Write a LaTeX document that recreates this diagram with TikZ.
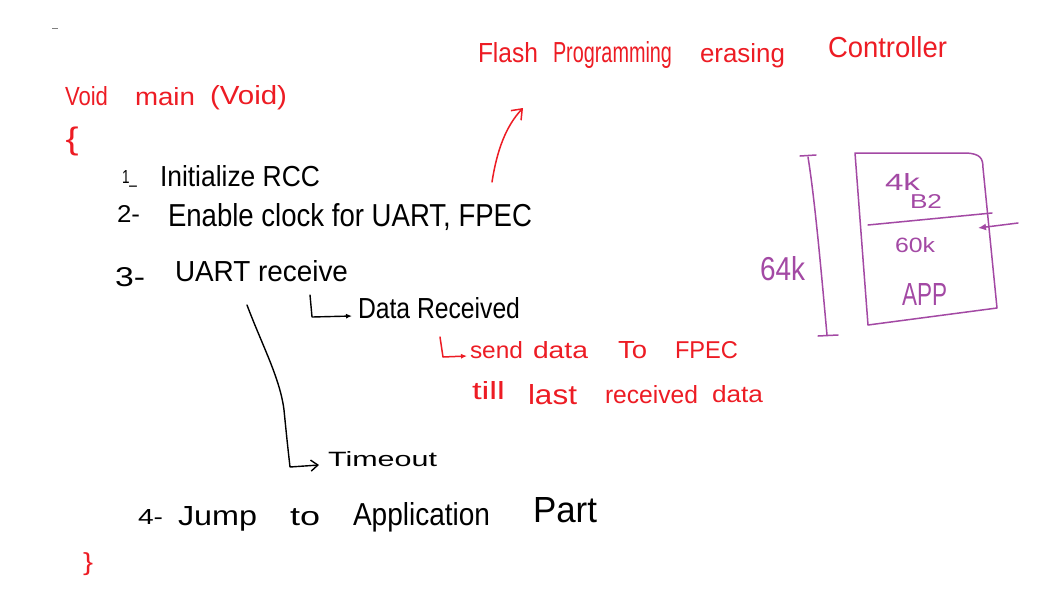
\documentclass[tikz,border=0pt]{standalone}
\usepackage{fontspec}
\setmainfont{Liberation Sans}
\usepackage{graphicx}
\usetikzlibrary{arrows.meta,calc}
\definecolor{penred}{RGB}{237,28,36}
\definecolor{penpurple}{RGB}{163,73,164}
\newcommand{\fitbox}[3]{\resizebox{#1pt}{#2pt}{\vphantom{X}#3}}
\tikzset{
  hw/.style={inner sep=0pt, outer sep=0pt, anchor=base west, text=black},
  hwred/.style={hw, text=penred},
  hwmem/.style={hw, text=penpurple},
  inkblack/.style={draw=black, line width=1.4pt, line cap=round, line join=round},
  inkred/.style={draw=penred, line width=1.5pt, line cap=round, line join=round},
  inkmem/.style={draw=penpurple, line width=1.5pt, line cap=round, line join=round},
  blobtip/.style={-{Latex[length=6pt,width=5pt]}},
  barbtip/.style={-{Straight Barb[length=7pt,width=11pt]}},
}
\begin{document}
\begin{tikzpicture}[x=1pt,y=-1pt]
\useasboundingbox[fill=white] (0,0) rectangle (1042,606);

% stray mark
\draw[draw=gray, line width=0.8pt] (52,28) -- (58,28);

% red function frame
\node[hwred] (void1) at (65,105) {\fitbox{43}{19}{Void}};
\node[hwred] (main) at (135,105) {\fitbox{60}{18}{main}};
\node[hwred] (void2) at (210,104) {\fitbox{77}{19}{(Void)}};
\node[hwred, anchor=center] (lbrace) at (72,141) {\resizebox*{13pt}{29pt}{\{}};
\node[hwred, anchor=center] (rbrace) at (88,564) {\resizebox*{10pt}{23pt}{\}}};

% title
\node[hwred] (t1) at (478,62) {\fitbox{60}{20}{Flash}};
\node[hwred] (t2) at (553,62) {\fitbox{119}{21}{Programming}};
\node[hwred] (t3) at (700,62) {\fitbox{85}{19}{erasing}};
\node[hwred] (t4) at (828,57) {\fitbox{119}{21}{Controller}};

% steps
\node[hw] (n1) at (122,183) {\fitbox{15}{13}{1\_}};
\node[hw] (s1) at (160,186) {\fitbox{160}{21}{Initialize RCC}};
\node[hw] (n2) at (117,222) {\fitbox{23}{17}{2-}};
\node[hw] (s2) at (168,226) {\fitbox{364}{23}{Enable clock for UART, FPEC}};
\node[hw] (n3) at (115,286) {\fitbox{30}{19}{3-}};
\node[hw] (s3) at (175,281) {\fitbox{173}{21}{UART receive}};
\node[hw] (dr) at (358,318) {\fitbox{162}{21}{Data Received}};

\node[hwred] (sd1) at (470,358) {\fitbox{53}{17}{send}};
\node[hwred] (sd2) at (533,358) {\fitbox{55}{17}{data}};
\node[hwred] (sd3) at (618,358) {\fitbox{29}{17}{To}};
\node[hwred] (sd4) at (675,358) {\fitbox{63}{17}{FPEC}};
\node[hwred] (tl1) at (472,399) {\fitbox{33}{18}{till}};
\node[hwred] (tl2) at (528,404) {\fitbox{49}{20}{last}};
\node[hwred] (tl3) at (605,403) {\fitbox{93}{18}{received}};
\node[hwred] (tl4) at (712,402) {\fitbox{51}{17}{data}};

\node[hw] (to) at (328,466) {\fitbox{109}{15}{Timeout}};

\node[hw] (n4) at (138,524) {\fitbox{25}{15}{4-}};
\node[hw] (j1) at (178,525) {\fitbox{79}{19}{Jump}};
\node[hw] (j2) at (290,525) {\fitbox{30}{18}{to}};
\node[hw] (j3) at (353,525) {\fitbox{137}{23}{Application}};
\node[hw] (j4) at (533,522) {\fitbox{64}{25}{Part}};

% branch connectors
\coordinate (drs) at (310,295);
\draw[inkblack, blobtip] (drs) -- (312,317) -- ($(dr.base west)+(-6,-2)$);
\coordinate (sds) at (440,337);
\draw[inkred, blobtip] (sds) -- (443,357) -- ($(sd1.base west)+(-3,-2)$);
\coordinate (tos) at (247,305);
\draw[inkblack, barbtip] (tos) .. controls (262,345) and (280,378) .. (284,410)
  .. controls (287,440) .. (290,467) -- ($(to.base west)+(-9,-1)$);

% arrow towards the title
\coordinate (fa1) at (492,182);
\coordinate (fa2) at (523,108);
\draw[inkred, -{Straight Barb[length=9pt,width=14pt]}] (fa1) .. controls (497,150) and (506,126) .. (fa2);

% memory map
\coordinate (bTL) at (855,153);
\coordinate (bBR) at (997,308);
\coordinate (bBL) at (868,325);
\draw[inkmem] (bTL) -- (967,153) .. controls (980,154) and (983,158) .. (983,168)
  -- (bBR) -- (bBL) -- cycle;
\coordinate (dL) at (868,225);
\coordinate (dR) at (992,213);
\draw[inkmem] (dL) -- (dR);
\coordinate (pa1) at (1018,223);
\coordinate (pa2) at (978,228);
\draw[inkmem, -{Latex[length=8pt,width=7pt]}] (pa1) -- (pa2);

\coordinate (brT) at (808,157);
\coordinate (brB) at (827,335);
\draw[inkmem] (brT) .. controls (815,200) and (822,280) .. (brB);
\draw[inkmem] (800,156) -- (816,155);
\draw[inkmem] (818,336) -- (838,335);

\node[hwmem] (m1) at (885,190) {\fitbox{35}{17}{4k}};
\node[hwmem] (m2) at (910,208) {\fitbox{32}{14}{B2}};
\node[hwmem] (m3) at (895,252) {\fitbox{40}{15}{60k}};
\node[hwmem] (m4) at (902,305) {\fitbox{45}{22}{APP}};
\node[hwmem] (m5) at (760,280) {\fitbox{45}{24}{64k}};
\end{tikzpicture}
\end{document}
